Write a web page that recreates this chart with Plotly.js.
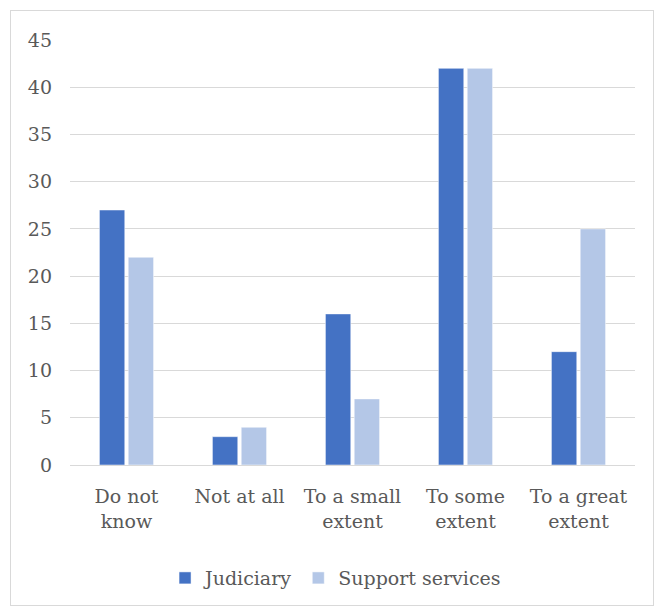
<!DOCTYPE html>
<html>
<head>
<meta charset="utf-8">
<script src="https://cdn.plot.ly/plotly-3.0.1.min.js"></script>
<style>
  html, body { margin: 0; padding: 0; background: #ffffff; }
  #wrap { position: relative; width: 656px; height: 607px; }
  #chart { position: absolute; left: 0; top: 0; width: 656px; height: 607px; }
  #frame { position: absolute; left: 10px; top: 10px; width: 644px; height: 596px;
           border: 1px solid #d9d9d9; box-sizing: border-box; pointer-events: none; }
</style>
</head>
<body>
<div id="wrap">
  <div id="chart"></div>
  <div id="frame"></div>
</div>
<script>
// Response categories (x axis)
const categories = ["Do not<br>know", "Not at all", "To a small<br>extent", "To some<br>extent", "To a great<br>extent"];
// Series values
const judiciary = [27, 3, 16, 42, 12];
const supportServices = [22, 4, 7, 42, 25];
// Y axis ticks
const yTicks = [0, 5, 10, 15, 20, 25, 30, 35, 40, 45];

const fontFamily = "'DejaVu Serif', 'Liberation Serif', serif";
const textColor = "#595959";

const traces = [
  {
    type: "bar", name: "Judiciary", x: categories, y: judiciary,
    marker: { color: "#4472C4", line: { color: "#ffffff", width: 0.5 } }
  },
  {
    type: "bar", name: "Support services", x: categories, y: supportServices,
    marker: { color: "#B4C7E7", line: { color: "#ffffff", width: 0.5 } }
  }
];

const layout = {
  width: 656, height: 607,
  margin: { l: 70, r: 21, t: 40, b: 142, autoexpand: false },
  paper_bgcolor: "rgba(0,0,0,0)", plot_bgcolor: "#ffffff",
  barmode: "group", bargap: 0.49, bargroupgap: 0.12,
  font: { family: fontFamily, size: 19, color: textColor },
  showlegend: true,
  legend: {
    orientation: "h", x: 0.47, xanchor: "center", y: -0.266, yanchor: "middle",
    font: { family: fontFamily, size: 19, color: textColor },
    itemwidth: 30, traceorder: "normal"
  },
  xaxis: {
    type: "category", automargin: false, showgrid: false, showline: true, linecolor: "#d9d9d9", linewidth: 1,
    ticks: "", ticklabelstandoff: 14, tickfont: { family: fontFamily, size: 19, color: textColor }
  },
  yaxis: {
    range: [0, 45], tickvals: yTicks, automargin: false, showgrid: true, gridcolor: "#d9d9d9", gridwidth: 1,
    zeroline: false, showline: false, ticks: "", ticklabelstandoff: 17,
    tickfont: { family: fontFamily, size: 19, color: textColor }
  }
};

Plotly.newPlot("chart", traces, layout, { displayModeBar: false, staticPlot: true });
</script>
</body>
</html>
